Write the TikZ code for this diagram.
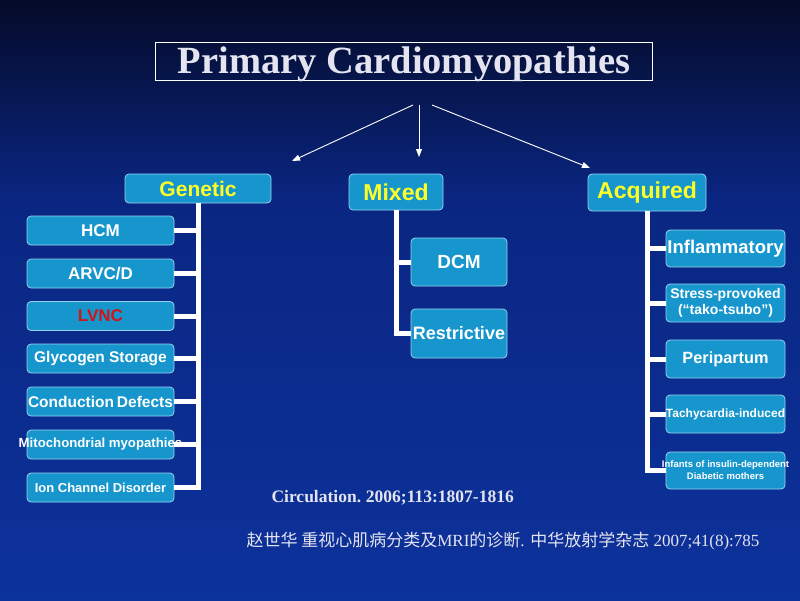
\documentclass[tikz,border=0pt]{standalone}
\usepackage{fontspec}
\setmainfont{Liberation Serif}
\newfontfamily\arialfont{Liberation Sans}
\newfontfamily\cjk{Noto Sans CJK SC}
\usetikzlibrary{arrows.meta}
\definecolor{bgtop}{RGB}{4,10,40}
\definecolor{bgmid}{RGB}{10,38,130}
\definecolor{bgbot}{RGB}{12,50,155}
\definecolor{boxfill}{RGB}{22,150,205}
\definecolor{boxline}{RGB}{150,210,240}
\definecolor{headyellow}{RGB}{255,255,40}
\definecolor{lvncred}{RGB}{210,20,20}
\definecolor{titlegray}{RGB}{228,228,240}
\newcommand{\ov}[1]{\makebox[0pt][c]{#1}}
\tikzset{
  cbox/.style={draw=boxline, line width=0.8pt, fill=boxfill, rounded corners=4pt,
    inner sep=0pt, align=center, text=white, font=\arialfont\bfseries},
  headbox/.style={cbox, text=headyellow},
  tree/.style={white, line width=5pt, line join=miter},
  arr/.style={white, line width=0.9pt, -{Triangle[length=8pt,width=6pt]}},
}
\begin{document}
\begin{tikzpicture}[x=1pt,y=-1pt]
\useasboundingbox (0,0) rectangle (800,600);
\shade[top color=bgtop, bottom color=bgmid] (0,0) rectangle (800,200);
\shade[top color=bgmid, bottom color=bgbot] (0,200) rectangle (800,600);
% title
\node[draw=white, line width=0.8pt, minimum width=497pt, minimum height=38pt, inner sep=0pt] (titlebox) at (403.5,61) {};
\node[text=titlegray, font=\bfseries\fontsize{38.5}{42}\selectfont] (title) at (404,64) {Primary Cardiomyopathies};
% arrows
\coordinate (aL) at (413,105);
\coordinate (aM) at (419,105);
\coordinate (aR) at (432,105);
\coordinate (eL) at (292,161);
\coordinate (eM) at (419,157);
\coordinate (eR) at (590,168);
% heads
\node[headbox, minimum width=146pt, minimum height=29pt, font=\arialfont\bfseries\fontsize{21}{24}\selectfont] (gen) at (198,188.5) {Genetic};
\node[headbox, minimum width=94pt, minimum height=36pt, font=\arialfont\bfseries\fontsize{23}{26}\selectfont] (mix) at (396,192) {Mixed};
\node[headbox, minimum width=118pt, minimum height=37pt, font=\arialfont\bfseries\fontsize{23}{26}\selectfont] (acq) at (647,192.5) {Acquired};
\draw[arr] (aL) -- (eL);
\draw[arr] (aM) -- (eM);
\draw[arr] (aR) -- (eR);
% genetic children
\tikzset{gbox/.style={cbox, minimum width=147pt, minimum height=29pt}}
\node[gbox, font=\arialfont\bfseries\fontsize{17}{20}\selectfont] (hcm) at (100.5,230.5) {HCM};
\node[gbox, font=\arialfont\bfseries\fontsize{17}{20}\selectfont] (arvc) at (100.5,273.5) {ARVC/D};
\node[gbox, text=lvncred, font=\arialfont\bfseries\fontsize{17}{20}\selectfont] (lvnc) at (100.5,316) {LVNC};
\node[gbox, font=\arialfont\bfseries\fontsize{15.5}{18}\selectfont] (gly) at (100.5,358.5) {Glycogen Storage};
\node[gbox, font=\arialfont\bfseries\fontsize{15.5}{18}\selectfont] (cond) at (100.5,401.5) {\ov{Conduction\hspace{-1.5pt} Defects}};
\node[gbox, font=\arialfont\bfseries\fontsize{13.2}{15}\selectfont] (mito) at (100.5,444.5) {\ov{Mitochondrial myopathies}};
\node[gbox, font=\arialfont\bfseries\fontsize{13}{15}\selectfont] (ion) at (100.5,487.5) {Ion Channel Disorder};
\draw[tree] (gen.south) -- (gen.south |- ion.east) -- (ion.east);
\foreach \n in {hcm,arvc,lvnc,gly,cond,mito} \draw[tree] (\n.east) -- (\n.east -| gen.south);
% mixed children
\tikzset{mbox/.style={cbox, minimum width=96pt, minimum height=48pt}}
\node[mbox, font=\arialfont\bfseries\fontsize{19}{22}\selectfont] (dcm) at (459,262) {DCM};
\node[mbox, minimum height=49pt, font=\arialfont\bfseries\fontsize{18}{21}\selectfont] (res) at (459,333.5) {\ov{Restrictive}};
\draw[tree] (mix.south) -- (mix.south |- res.west) -- (res.west);
\draw[tree] (dcm.west) -- (dcm.west -| mix.south);
% acquired children
\tikzset{abox/.style={cbox, minimum width=119pt, minimum height=37pt}}
\node[abox, font=\arialfont\bfseries\fontsize{18.5}{21}\selectfont] (inf) at (725.5,248.5) {\ov{Inflammatory}};
\node[abox, minimum height=38pt, font=\arialfont\bfseries\fontsize{14}{16.5}\selectfont] (str) at (725.5,303) {\ov{Stress-provoked}\\\ov{(“tako-tsubo”)}};
\node[abox, minimum height=38pt, font=\arialfont\bfseries\fontsize{16.3}{19}\selectfont] (per) at (725.5,359) {Peripartum};
\node[abox, minimum height=38pt, font=\arialfont\bfseries\fontsize{12}{14}\selectfont] (tac) at (725.5,414) {\ov{Tachycardia-induced}};
\node[abox, font=\arialfont\bfseries\fontsize{9.5}{12}\selectfont] (infa) at (725.5,470.5) {\ov{Infants of insulin-dependent}\\\ov{Diabetic mothers}};
\draw[tree] (acq.south) -- (acq.south |- infa.west) -- (infa.west);
\foreach \n in {inf,str,per,tac} \draw[tree] (\n.west) -- (\n.west -| acq.south);
% references
\node[text=titlegray, font=\bfseries\fontsize{17.5}{20}\selectfont, anchor=west] (circ) at (268,498) {Circulation.\hspace{-1pt} 2006;113:1807-1816};
\node[text=titlegray, font=\fontsize{17}{20}\selectfont, anchor=west] (zhao) at (243,541) {{\cjk 赵世华 重视心肌病分类及}MRI{\cjk 的诊断}. {\cjk 中华放射学杂志} 2007;41(8):785};
\end{tikzpicture}
\end{document}
